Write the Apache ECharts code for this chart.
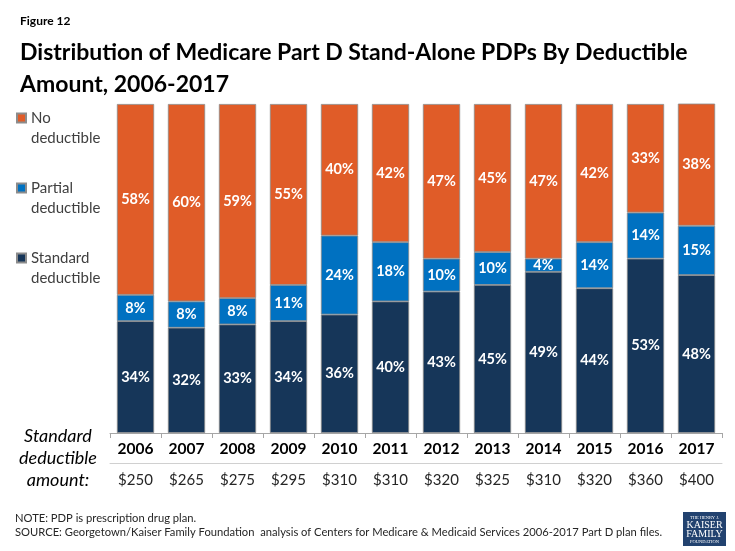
<!DOCTYPE html>
<html><head><meta charset="utf-8">
<script src="https://cdn.jsdelivr.net/npm/echarts@6/dist/echarts.min.js"></script>
<style>html,body{margin:0;padding:0;background:#fff}#c{width:735px;height:551px}</style>
</head><body><div id="c"></div>
<script>
const years = ['2006','2007','2008','2009','2010','2011','2012','2013','2014','2015','2016','2017'];
const deductibleAmounts = ['$250','$265','$275','$295','$310','$310','$320','$325','$310','$320','$360','$400'];
const standardDeductible = [34,32,33,34,36,40,43,45,49,44,53,48];
const partialDeductible = [8,8,8,11,24,18,10,10,4,14,14,15];
const noDeductible = [58,60,59,55,40,42,47,45,47,42,33,38];

const FONT = 'Lato, "Open Sans", sans-serif';
const chart = echarts.init(document.getElementById('c'), null, {renderer:'canvas'});
const segLabel = {show:true, position:'inside', color:'#fff', fontWeight:'bold', fontSize:14.5, fontFamily:FONT, formatter: p => p.value + '%'};
const border = {borderColor:'#8c8c8c', borderWidth:0.8};
function series(name, data, color){
  return {name, type:'bar', stack:'all', data, barCategoryGap:'27%', xAxisIndex:0, yAxisIndex:0,
    itemStyle:Object.assign({color}, border), label:segLabel, emphasis:{disabled:true}};
}
chart.setOption({
  animation:false,
  textStyle:{fontFamily:FONT},
  title:[
    {text:'Figure 12', left:15, top:10, textStyle:{fontSize:12, fontWeight:'bold', color:'#000', fontFamily:FONT}},
    {text:'Distribution of Medicare Part D Stand-Alone PDPs By Deductible\nAmount, 2006-2017', left:15, top:32,
     textStyle:{fontSize:23, fontWeight:'bold', color:'#000', lineHeight:32, fontFamily:FONT}}
  ],
  legend:{orient:'vertical', left:16, top:88, padding:0, itemWidth:9, itemHeight:9, itemGap:10, icon:'rect',
    data:['No deductible','Partial deductible','Standard deductible'],
    formatter: n => '\n' + n.replace(' ', '\n'),
    textStyle:{fontSize:15, color:'#404040', lineHeight:20, fontFamily:FONT}},
  grid:{left:110, right:13, top:104, bottom:118, containLabel:false},
  xAxis:[
    {type:'category', data:years, position:'bottom',
     axisLine:{lineStyle:{color:'#a6a6a6'}}, axisTick:{show:true, length:5, lineStyle:{color:'#a6a6a6'}},
     axisLabel:{color:'#000', fontWeight:'bold', fontSize:15.5, margin:8, fontFamily:FONT}},
    {type:'category', data:deductibleAmounts, position:'bottom', offset:30,
     axisLine:{show:true, lineStyle:{color:'#d0d0d0'}}, axisTick:{show:false},
     axisLabel:{color:'#262626', fontSize:15, margin:10, fontFamily:FONT}}
  ],
  yAxis:{type:'value', min:0, max:100, show:false},
  series:[
    series('Standard deductible', standardDeductible, '#163659'),
    series('Partial deductible', partialDeductible, '#0071C1'),
    series('No deductible', noDeductible, '#E05C28')
  ],
  graphic:[
    {type:'text', x:58, y:458, style:{text:'Standard\ndeductible\namount:', fontSize:18, fontStyle:'italic', fill:'#000', align:'center', verticalAlign:'middle', lineHeight:22, fontFamily:FONT}},
    {type:'text', x:15, y:511, style:{text:'NOTE: PDP is prescription drug plan.\nSOURCE: Georgetown/Kaiser Family Foundation  analysis of Centers for Medicare & Medicaid Services 2006-2017 Part D plan files.', fontSize:11.2, fill:'#262626', lineHeight:14, fontFamily:FONT}},
    {type:'group', x:683, y:512, children:[
      {type:'rect', shape:{x:0,y:0,width:43,height:34}, style:{fill:'#22426f'}},
      {type:'text', x:21.5, y:3, style:{text:'THE HENRY J.', fontSize:4.5, fill:'#fff', align:'center', fontFamily:'"Liberation Serif", serif'}},
      {type:'text', x:21.5, y:8, style:{text:'KAISER', fontSize:10, fill:'#fff', align:'center', fontFamily:'"Liberation Serif", serif'}},
      {type:'text', x:21.5, y:17, style:{text:'FAMILY', fontSize:10, fill:'#fff', align:'center', fontFamily:'"Liberation Serif", serif'}},
      {type:'text', x:21.5, y:27.5, style:{text:'FOUNDATION', fontSize:4.5, fill:'#fff', align:'center', fontFamily:'"Liberation Serif", serif'}}
    ]}
  ]
});
</script></body></html>
